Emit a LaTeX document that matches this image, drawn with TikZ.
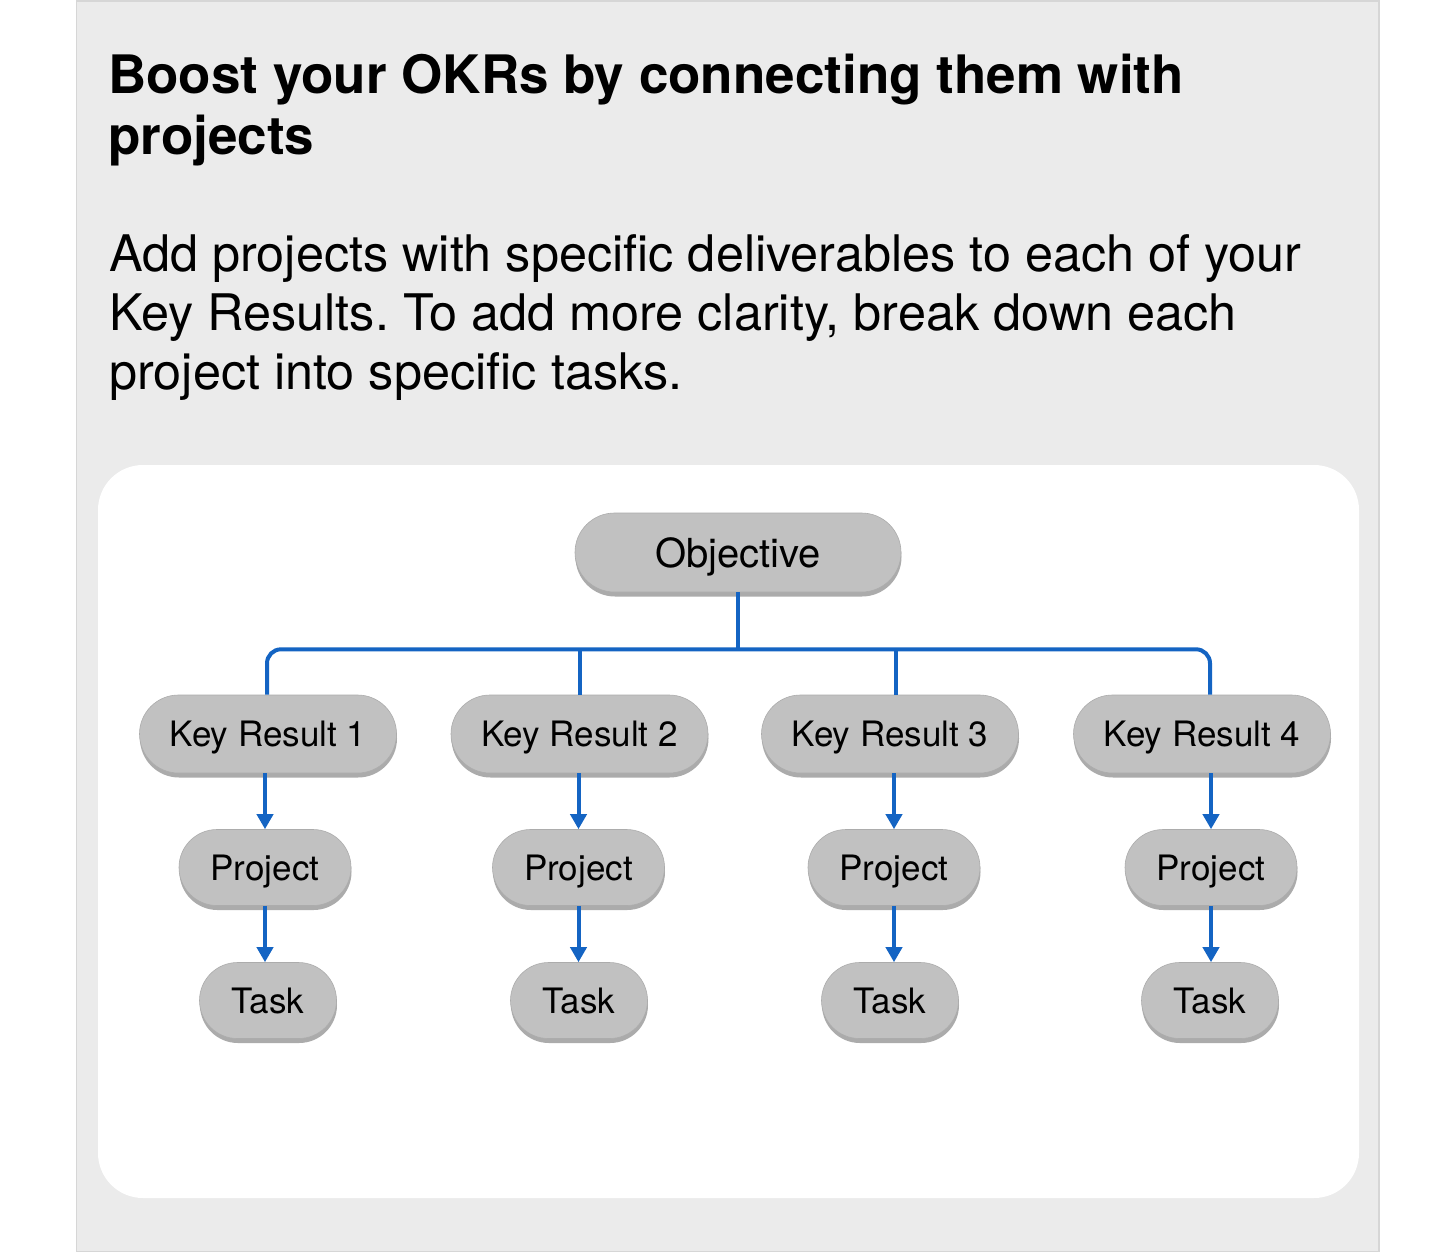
\documentclass[tikz,border=0pt]{standalone}
\usepackage{fontspec}
\setmainfont{TeX Gyre Heros}
\usetikzlibrary{arrows.meta, shapes.misc, shadows}
\frenchspacing

\definecolor{panelgray}{RGB}{235,235,235}
\definecolor{panelline}{RGB}{214,214,214}
\definecolor{pillgray}{RGB}{193,193,193}
\definecolor{pilledge}{RGB}{172,172,172}
\definecolor{linkblue}{RGB}{20,100,195}

\begin{document}
\begin{tikzpicture}[
    x=1pt,
    y=-1pt,
    >={Triangle[width=16pt,length=15pt]},
    pill/.style={
        rounded rectangle,
        fill=pillgray,
        draw=pilledge,
        line width=0.6pt,
        inner sep=0pt,
        text height=25pt,
        text depth=0pt,
        font=\fontsize{35}{40}\selectfont,
        drop shadow={shadow xshift=0.5pt, shadow yshift=-4.5pt,
                     fill=black!65, opacity=0.5}
    },
    headtext/.style={
        anchor=north west,
        inner sep=0pt,
        align=left
    },
    link/.style={draw=linkblue, line width=4pt},
    arr/.style={link, ->}
]

\useasboundingbox (0,0) rectangle (1456,1253);

% Gray card and white drawing area
\draw[panelline, fill=panelgray, line width=1.5pt] (76.5,1) rectangle (1379,1251.5);
\fill[white, rounded corners=45pt] (98,465) rectangle (1359,1198);

% Heading and intro text
\node[headtext, font=\fontsize{53}{61}\selectfont\bfseries] (title) at (108,54)
    {Boost your OKRs by connecting them with\\projects};
\node[headtext, font=\fontsize{50.4}{59}\selectfont] (intro) at (109,234)
    {Add projects with specific deliverables to each of your\\
     Key Results. To add more clarity, break down each\\
     project into specific tasks.};

% Objective
\node[pill, minimum width=326pt, minimum height=79pt, text height=29pt,
      font=\fontsize{40}{45}\selectfont] (obj) at (738,552.5) {Objective};

% Key Result / Project / Task columns
\foreach \i/\kx/\px/\tx in {1/268/265/268, 2/579.5/578.5/579,
                             3/890/894/890, 4/1202/1211/1210} {
    \node[pill, minimum width=257pt, minimum height=78pt] (kr\i) at (\kx,734) {Key Result \i};
    \node[pill, minimum width=172pt, minimum height=76pt] (pr\i) at (\px,867.5) {Project};
    \node[pill, minimum width=137pt, minimum height=76pt] (tk\i) at (\tx,1000.5) {Task};
    \draw[arr] (kr\i.south -| pr\i.north) -- (pr\i.north);
    \draw[arr] (pr\i.south) -- (tk\i.north -| pr\i.south);
}

% Bus from Objective to the Key Results
\coordinate (kr1top) at ([xshift=-1pt]kr1.north);
\coordinate (kr2top) at ([xshift=0.5pt]kr2.north);
\coordinate (kr3top) at ([xshift=6pt]kr3.north);
\coordinate (kr4top) at ([xshift=8pt]kr4.north);

\draw[link] (obj.south) -- ++(0,57) coordinate (busmid);
\draw[link, rounded corners=14pt] (kr1top) |- (busmid) -| (kr4top);
\draw[link] (busmid -| kr2top) -- (kr2top);
\draw[link] (busmid -| kr3top) -- (kr3top);

\end{tikzpicture}
\end{document}
